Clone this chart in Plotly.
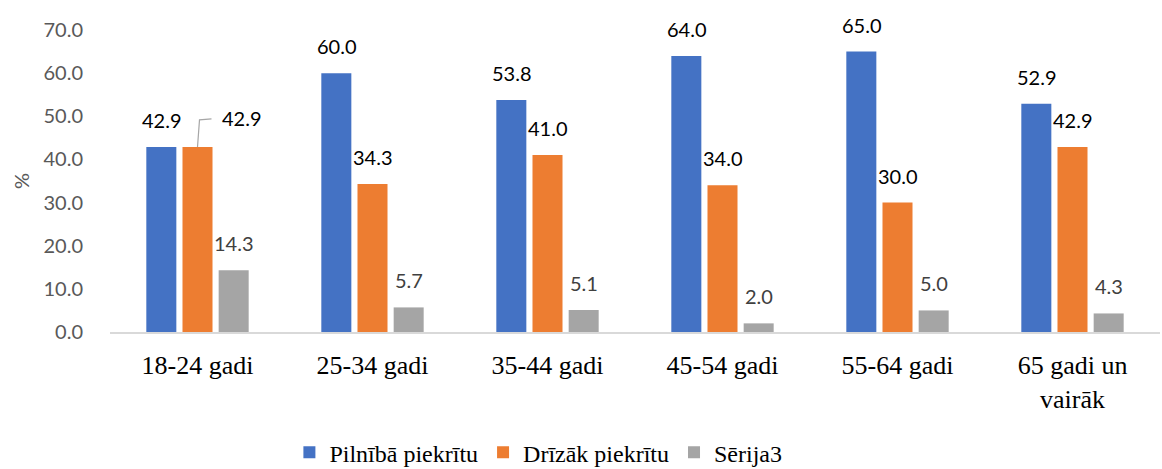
import plotly.graph_objects as go

categories = ["18-24 gadi", "25-34 gadi", "35-44 gadi", "45-54 gadi", "55-64 gadi", "65 gadi un<br>vairāk"]
series_names = ["Pilnībā piekrītu", "Drīzāk piekrītu", "Sērija3"]
pilniba = [42.9, 60.0, 53.8, 64.0, 65.0, 52.9]
drizak = [42.9, 34.3, 41.0, 34.0, 30.0, 42.9]
serija3 = [14.3, 5.7, 5.1, 2.0, 5.0, 4.3]
y_ticks = [0, 10, 20, 30, 40, 50, 60, 70]

colors = ["#4472C4", "#ED7D31", "#A5A5A5"]
label_colors = ["#000000", "#000000", "#404040"]
all_series = [pilniba, drizak, serija3]

fig = go.Figure()
for name, vals, col in zip(series_names, all_series, colors):
    fig.add_trace(go.Bar(x=list(range(len(categories))), y=vals, name=name,
                         marker=dict(color=col, line=dict(width=0))))

num_font = "Lato"
serif_font = "Liberation Serif, Times New Roman, serif"
slot = 36
annotations = []
shapes = []
for si, vals in enumerate(all_series):
    for ci, v in enumerate(vals):
        dx = (si - 1) * slot
        ys = 13
        # Excel moved this label aside with a leader line
        if si == 1 and ci == 0:
            dx += 44
            ys = 15
            shapes.append(dict(type="path", xref="x", yref="y",
                               xsizemode="pixel", ysizemode="pixel",
                               xanchor=ci, yanchor=v,
                               path="M 0,0 L 2,27 L 14,28",
                               line=dict(color="#A6A6A6", width=1.2)))
        annotations.append(dict(x=ci, y=v, xref="x", yref="y", text=f"{v:.1f}",
                                showarrow=False, xshift=dx, yshift=ys,
                                yanchor="bottom",
                                font=dict(family=num_font, size=20, color=label_colors[si])))

fig.update_layout(
    barmode="group", bargap=0.38, bargroupgap=0.17,
    width=1162, height=469,
    font=dict(family=serif_font, color="#000000"),
    margin=dict(l=110, r=2, t=30, b=137, autoexpand=False),
    plot_bgcolor="white", paper_bgcolor="white",
    annotations=annotations, shapes=shapes,
    legend=dict(orientation="h", x=0.408, xanchor="center", yref="container", y=0.035, yanchor="middle",
                font=dict(family=serif_font, size=24, color="#000000"),
                itemwidth=30, tracegroupgap=0, itemclick=False),
    xaxis=dict(tickmode="array", tickvals=list(range(len(categories))), ticktext=categories,
               showline=True, linecolor="#D9D9D9", linewidth=1.5, ticks="", automargin=False,
               ticklabelstandoff=9,
               tickfont=dict(family=serif_font, size=26, color="#000000"),
               range=[-0.5, len(categories) - 0.5]),
    yaxis=dict(range=[0, 70], tickvals=y_ticks, tickformat=".1f", showgrid=False, automargin=False,
               zeroline=False, showline=False, ticks="outside", ticklen=22, tickcolor="rgba(0,0,0,0)",
               tickfont=dict(family=num_font, size=20, color="#595959"),
               title=dict(text="%", font=dict(family=num_font, size=20, color="#595959"), standoff=8)),
)

fig.write_html("out.html", config={"displayModeBar": False},
               post_script="document.body.style.margin='0';document.body.style.overflow='hidden';")
